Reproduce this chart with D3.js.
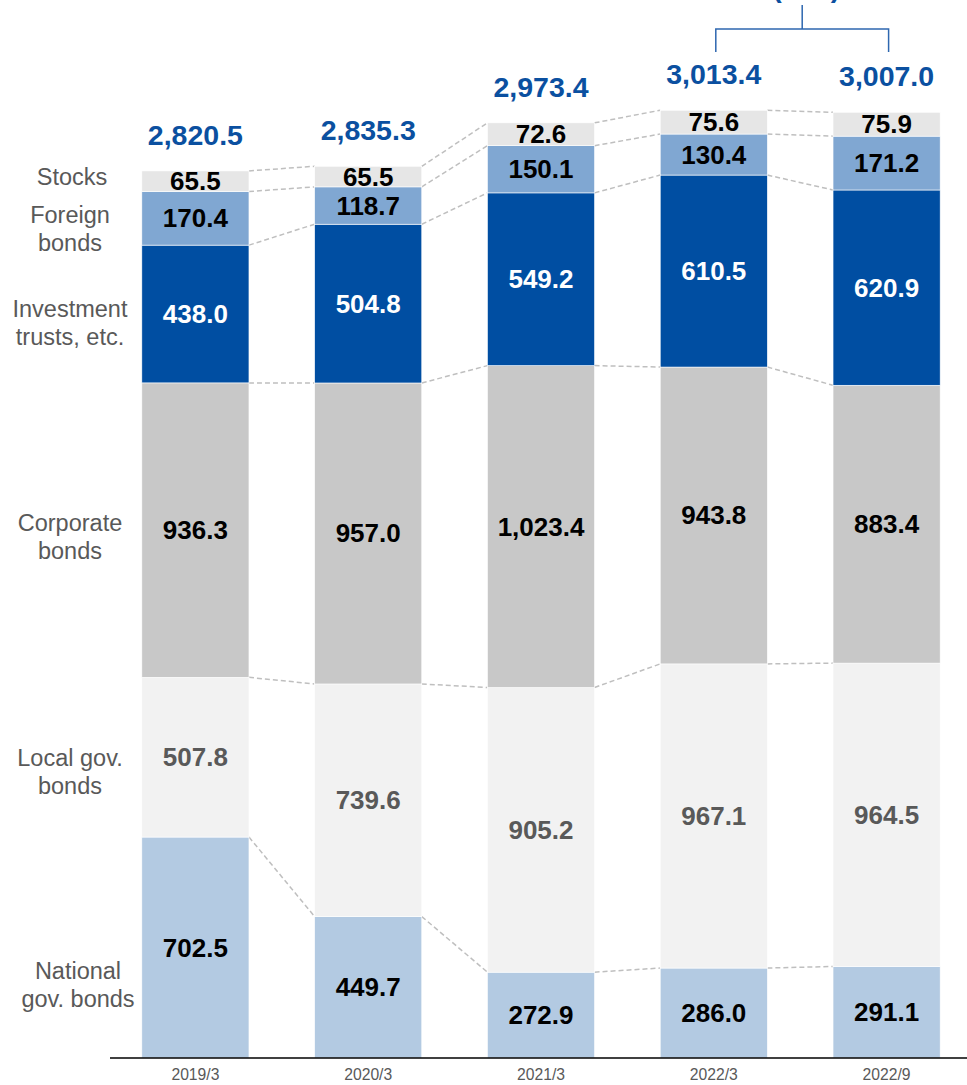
<!DOCTYPE html>
<html>
<head>
<meta charset="utf-8">
<script src="https://cdn.jsdelivr.net/npm/d3@7"></script>
<style>
  html, body { margin: 0; padding: 0; background: #fff; }
  svg { display: block; font-family: "Liberation Sans", Arial, sans-serif; }
</style>
</head>
<body>
<svg id="chart" width="967" height="1085"></svg>
<script>
// Balance by asset class (stacked, bottom to top)
const categories = ["2019/3", "2020/3", "2021/3", "2022/3", "2022/9"];
const nationalGov = [702.5, 449.7, 272.9, 286.0, 291.1];
const localGov = [507.8, 739.6, 905.2, 967.1, 964.5];
const corporateBonds = [936.3, 957.0, 1023.4, 943.8, 883.4];
const investmentTrusts = [438.0, 504.8, 549.2, 610.5, 620.9];
const foreignBonds = [170.4, 118.7, 150.1, 130.4, 171.2];
const stocks = [65.5, 65.5, 72.6, 75.6, 75.9];
const totals = [2820.5, 2835.3, 2973.4, 3013.4, 3007.0];
const seriesKeys = ["national", "local", "corporate", "trusts", "foreign", "stocks"];
const seriesLabels = [["National", "gov. bonds"], ["Local gov.", "bonds"], ["Corporate", "bonds"],
                      ["Investment", "trusts, etc."], ["Foreign", "bonds"], ["Stocks"]];
const changeLabel = "(-6.4)";

const seriesValues = [nationalGov, localGov, corporateBonds, investmentTrusts, foreignBonds, stocks];
const fills = ["#b3cae2", "#f2f2f2", "#c8c8c8", "#004ea2", "#80a7d2", "#e6e6e6"];
const labelColors = ["#000", "#595959", "#000", "#fff", "#000", "#000"];

const table = categories.map((c, i) => {
  const row = { cat: c };
  seriesKeys.forEach((k, j) => row[k] = seriesValues[j][i]);
  return row;
});
const stacked = d3.stack().keys(seriesKeys)(table);

const svg = d3.select("#chart");
const baseY = 1058;
const x = d3.scaleBand().domain(categories).range([109, 973]).paddingInner(0.38).paddingOuter(0.19);
const y = d3.scaleLinear().domain([0, 3364]).range([baseY, 0]);
const bw = x.bandwidth();

// dashed connectors between neighbouring bars at every segment boundary
const connectors = svg.append("g");
stacked.forEach(layer => {
  for (let i = 0; i < categories.length - 1; i++) {
    const a = layer[i], b = layer[i + 1];
    connectors.append("line")
      .attr("x1", x(categories[i]) + bw).attr("y1", y(a[1]))
      .attr("x2", x(categories[i + 1])).attr("y2", y(b[1]))
      .attr("stroke", "#bfbfbf").attr("stroke-width", 1.5)
      .attr("stroke-dasharray", "5,3");
  }
});

// stacked bars
const layers = svg.append("g").selectAll("g").data(stacked).join("g")
  .attr("fill", (d, i) => fills[i]);
layers.selectAll("rect").data(d => d).join("rect")
  .attr("x", d => x(d.data.cat))
  .attr("y", d => y(d[1]))
  .attr("width", bw)
  .attr("height", d => y(d[0]) - y(d[1]))
  .attr("stroke", "#fff").attr("stroke-width", 0.6);

// segment values
stacked.forEach((layer, j) => {
  svg.append("g").selectAll("text").data(layer).join("text")
    .attr("x", d => x(d.data.cat) + bw / 2)
    .attr("y", d => (y(d[0]) + y(d[1])) / 2 + 9)
    .attr("text-anchor", "middle")
    .attr("font-size", 26).attr("font-weight", "bold")
    .attr("fill", labelColors[j])
    .text(d => d3.format(",.1f")(d[1] - d[0]));
});

// totals above bars
svg.append("g").selectAll("text").data(categories).join("text")
  .attr("x", c => x(c) + bw / 2)
  .attr("y", (c, i) => y(totals[i]) - 26)
  .attr("text-anchor", "middle")
  .attr("font-size", 28.5).attr("font-weight", "bold")
  .attr("fill", "#0b50a0")
  .text((c, i) => d3.format(",.1f")(totals[i]));

// bracket over the last two bars
const bx1 = x(categories[3]) + bw / 2 + 2, bx2 = x(categories[4]) + bw / 2 + 2;
const bmid = (bx1 + bx2) / 2;
svg.append("path")
  .attr("d", `M${bx1},52 V29 H${bx2} V52 M${bmid},29 V5`)
  .attr("fill", "none").attr("stroke", "#2e67b0").attr("stroke-width", 1.5);
svg.append("text")
  .attr("x", bmid + 4).attr("y", -3)
  .attr("text-anchor", "middle")
  .attr("font-size", 28.5).attr("font-weight", "bold")
  .attr("fill", "#0b50a0")
  .text(changeLabel);

// baseline axis
const axis = svg.append("g").attr("transform", `translate(0,${baseY})`)
  .call(d3.axisBottom(x).tickSize(0).tickPadding(11));
axis.select(".domain").attr("d", "M110,0H967").attr("stroke", "#000").attr("stroke-width", 1.5);
axis.selectAll("text").attr("font-size", 16).attr("fill", "#595959")
  .attr("font-family", "'Liberation Sans', Arial, sans-serif")
  .attr("textLength", 48).attr("lengthAdjust", "spacingAndGlyphs");

// series names at the left
const nameLayout = [
  { cx: 78, cy: 985 }, { cx: 70, cy: 772 }, { cx: 70, cy: 537 },
  { cx: 70, cy: 323 }, { cx: 70, cy: 229 }, { cx: 72, cy: 177 }
];
seriesLabels.forEach((lines, j) => {
  const t = svg.append("text")
    .attr("text-anchor", "middle")
    .attr("font-size", 23.5).attr("fill", "#595959");
  const lh = 28.5;
  const top = nameLayout[j].cy - (lines.length - 1) * lh / 2 + 8;
  lines.forEach((ln, k) => {
    t.append("tspan").attr("x", nameLayout[j].cx).attr("y", top + k * lh).text(ln);
  });
});
</script>
</body>
</html>
